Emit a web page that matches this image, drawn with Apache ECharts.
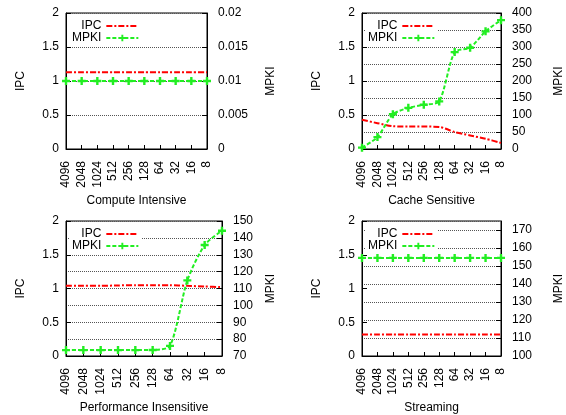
<!DOCTYPE html>
<html>
<head>
<meta charset="utf-8">
<script src="https://cdn.jsdelivr.net/npm/echarts@6/dist/echarts.min.js"></script>
<style>
  html, body { margin: 0; padding: 0; background: #fff; }
  #chart { width: 566px; height: 415px; }
</style>
</head>
<body>
<div id="chart"></div>
<script>
// cache sizes on the x axis
const sizes = ['4096', '2048', '1024', '512', '256', '128', '64', '32', '16', '8'];

// Compute Intensive
const computeIpc = [1.13, 1.13, 1.13, 1.13, 1.13, 1.13, 1.13, 1.13, 1.13, 1.13];
const computeMpki = [0.01, 0.01, 0.01, 0.01, 0.01, 0.01, 0.01, 0.01, 0.01, 0.01];

// Cache Sensitive
const cacheIpc = [0.43, 0.38, 0.335, 0.33, 0.33, 0.325, 0.25, 0.2, 0.15, 0.09];
const cacheMpki = [4, 35, 102, 121, 130, 140, 285, 298, 346, 379];

// Performance Insensitive
const perfIpc = [1.04, 1.04, 1.04, 1.045, 1.05, 1.05, 1.05, 1.04, 1.03, 1.02];
const perfMpki = [73.5, 73.5, 73.5, 73.5, 73.5, 73.6, 76, 114.8, 135.8, 144.2];

// Streaming
const streamIpc = [0.32, 0.32, 0.32, 0.32, 0.32, 0.32, 0.32, 0.32, 0.32, 0.32];
const streamMpki = [154.5, 154.5, 154.5, 154.5, 154.5, 154.5, 154.5, 154.5, 154.5, 154.5];

const titles = ['Compute Intensive', 'Cache Sensitive', 'Performance Insensitive', 'Streaming'];
// right (MPKI) axis ranges per panel: [min, max, interval]
const mpkiRanges = [[0, 0.02, 0.005], [0, 400, 50], [70, 150, 10], [100, 175, 10]];

const font = 'Liberation Sans, Arial, Helvetica, sans-serif';
const plusSymbol = 'path://M3.5,0H6.5V3.5H10V6.5H6.5V10H3.5V6.5H0V3.5H3.5Z';

const grids = [
  { left: 66, top: 13, width: 141, height: 136 },
  { left: 362, top: 13, width: 156, height: 136 },
  { left: 66, top: 221, width: 156, height: 136 },
  { left: 362, top: 221, width: 156, height: 136 },
];
const rightNameGaps = [58, 52, 43, 52];
const ipcData = [computeIpc, cacheIpc, perfIpc, streamIpc];
const mpkiData = [computeMpki, cacheMpki, perfMpki, streamMpki];

const chart = echarts.init(document.getElementById('chart'));

const xAxis = [];
const yAxis = [];
const series = [];
const legend = [];

grids.forEach((g, i) => {
  xAxis.push({
    type: 'category',
    gridIndex: i,
    data: sizes,
    boundaryGap: false,
    name: titles[i],
    nameLocation: 'middle',
    nameGap: 46,
    nameTextStyle: { fontFamily: font, fontSize: 12, color: '#000' },
    axisLine: { lineStyle: { color: '#000', width: 1 } },
    axisTick: { inside: true, length: 4, lineStyle: { color: '#000' } },
    axisLabel: { rotate: 90, margin: 12, interval: 0, fontFamily: font, fontSize: 12, color: '#000' },
    splitLine: { show: false },
  });
  yAxis.push({
    type: 'value',
    gridIndex: i,
    position: 'left',
    min: 0,
    max: 2,
    interval: 0.5,
    name: 'IPC',
    nameLocation: 'middle',
    nameGap: 39,
    nameRotate: 90,
    nameTextStyle: { fontFamily: font, fontSize: 12, color: '#000' },
    axisLine: { show: true, lineStyle: { color: '#000', width: 1 } },
    axisTick: { show: true, inside: true, length: 5, lineStyle: { color: '#000' } },
    axisLabel: { margin: 7, fontFamily: font, fontSize: 12, color: '#000' },
    splitLine: { show: false },
  });
  const r = mpkiRanges[i];
  yAxis.push({
    type: 'value',
    gridIndex: i,
    position: 'right',
    min: r[0],
    max: r[1],
    interval: r[2],
    name: 'MPKI',
    nameLocation: 'middle',
    nameGap: rightNameGaps[i],
    nameRotate: 90,
    nameTextStyle: { fontFamily: font, fontSize: 12, color: '#000' },
    axisLine: { show: true, lineStyle: { color: '#000', width: 1 } },
    axisTick: { show: true, inside: true, length: 5, lineStyle: { color: '#000' } },
    axisLabel: { margin: 11, showMaxLabel: i !== 3, fontFamily: font, fontSize: 12, color: '#000' },
    splitLine: { show: true, lineStyle: { color: '#555', type: 'dotted', width: 1 } },
  });
  series.push({
    name: 'IPC',
    type: 'line',
    xAxisIndex: i,
    yAxisIndex: i * 2,
    data: ipcData[i],
    smooth: 0.25,
    symbol: 'none',
    itemStyle: { color: 'rgba(0,0,0,0)' },
    lineStyle: { color: '#ff0000', width: 2, type: [6, 2, 2, 2] },
    z: 3,
  });
  series.push({
    name: 'MPKI',
    type: 'line',
    xAxisIndex: i,
    yAxisIndex: i * 2 + 1,
    data: mpkiData[i],
    smooth: 0.25,
    symbol: plusSymbol,
    symbolSize: 8,
    itemStyle: { color: '#22ee22' },
    lineStyle: { color: '#22ee22', width: 2, type: [4, 2] },
    z: 4,
  });
  legend.push({
    data: ['IPC', 'MPKI'],
    orient: 'vertical',
    align: 'right',
    left: g.left + 4,
    top: g.top + 5,
    itemWidth: 32,
    itemHeight: 8,
    itemGap: 0,
    padding: [2, 2, 2, 2],
    backgroundColor: '#fff',
    selectedMode: false,
    textStyle: { fontFamily: font, fontSize: 12, color: '#000' },
  });
});

chart.setOption({
  animation: false,
  backgroundColor: '#fff',
  grid: grids.map(g => Object.assign({ show: true, borderColor: '#000', borderWidth: 1 }, g)),
  legend,
  xAxis,
  yAxis,
  series,
});

window.addEventListener('resize', () => chart.resize());
</script>
</body>
</html>
